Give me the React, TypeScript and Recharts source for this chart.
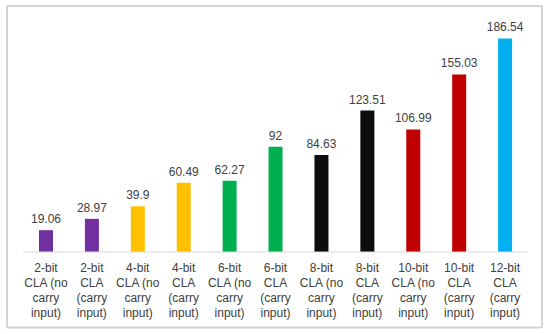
import React from 'react';
import { BarChart, Bar, XAxis, YAxis, Cell, LabelList } from 'recharts';

const categories = [
  '2-bit CLA (no carry input)',
  '2-bit CLA (carry input)',
  '4-bit CLA (no carry input)',
  '4-bit CLA (carry input)',
  '6-bit CLA (no carry input)',
  '6-bit CLA (carry input)',
  '8-bit CLA (no carry input)',
  '8-bit CLA (carry input)',
  '10-bit CLA (no carry input)',
  '10-bit CLA (carry input)',
  '12-bit CLA (carry input)',
];
const tickLines: string[][] = [
  ['2-bit', 'CLA (no', 'carry', 'input)'],
  ['2-bit', 'CLA', '(carry', 'input)'],
  ['4-bit', 'CLA (no', 'carry', 'input)'],
  ['4-bit', 'CLA', '(carry', 'input)'],
  ['6-bit', 'CLA (no', 'carry', 'input)'],
  ['6-bit', 'CLA', '(carry', 'input)'],
  ['8-bit', 'CLA (no', 'carry', 'input)'],
  ['8-bit', 'CLA', '(carry', 'input)'],
  ['10-bit', 'CLA (no', 'carry', 'input)'],
  ['10-bit', 'CLA', '(carry', 'input)'],
  ['12-bit', 'CLA', '(carry', 'input)'],
];
const values = [19.06, 28.97, 39.9, 60.49, 62.27, 92, 84.63, 123.51, 106.99, 155.03, 186.54];
const colors = ['#7030A0', '#7030A0', '#FFC000', '#FFC000', '#00B050', '#00B050', '#0D0D0D', '#0D0D0D', '#C00000', '#C00000', '#00B0F0'];

const data = categories.map((c, i) => ({ name: c, value: values[i], idx: i }));

const FONT = '"Liberation Sans", Arial, sans-serif';

const Tick = (props: any) => {
  const { x, payload } = props;
  const base = 272;
  const lines = tickLines[payload.index] || [payload.value];
  return (
    <text x={x} y={base} textAnchor="middle" fill="#404040" fontSize={12} fontFamily={FONT}>
      {lines.map((l, i) => (
        <tspan key={i} x={x} y={base + i * 15}>{l}</tspan>
      ))}
    </text>
  );
};

export default function App() {
  return (
    <div style={{ position: 'fixed', left: 0, top: 0, width: 550, height: 334, background: '#fff' }}>
      <div style={{ position: 'absolute', left: 0, top: 0 }}>
        <BarChart width={550} height={334} data={data} margin={{ top: 23, right: 22, bottom: 6, left: 23 }}>
          <XAxis
            dataKey="name"
            interval={0}
            tickLine={false}
            axisLine={{ stroke: '#d9d9d9', strokeWidth: 1 }}
            tick={<Tick />}
            height={76}
          />
          <YAxis hide domain={[0, 200]} />
          <Bar dataKey="value" barSize={14} isAnimationActive={false}>
            {data.map((d, i) => (
              <Cell key={i} fill={colors[i]} />
            ))}
            <LabelList dataKey="value" position="top" offset={7} fill="#404040" fontSize={12} fontFamily={FONT} />
          </Bar>
        </BarChart>
      </div>
      <svg width={550} height={334} style={{ position: 'absolute', left: 0, top: 0, pointerEvents: 'none' }}>
        <rect x={7} y={6} width={535} height={321.5} fill="none" stroke="#d3d3d3" strokeWidth={2} rx={1} />
      </svg>
    </div>
  );
}
